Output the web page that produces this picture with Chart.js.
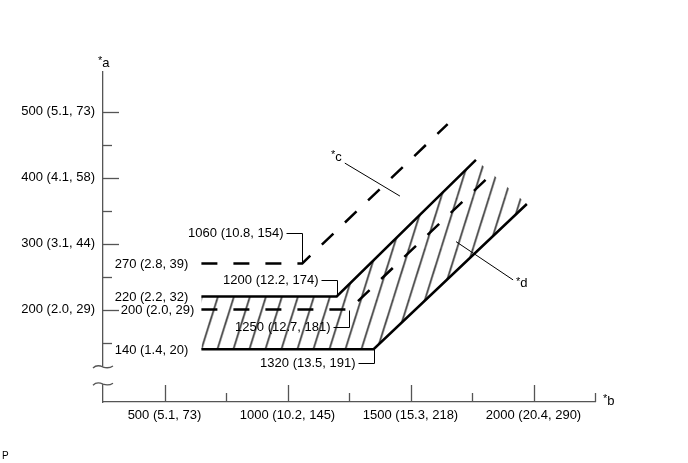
<!DOCTYPE html>
<html><head><meta charset="utf-8">
<script src="https://cdn.jsdelivr.net/npm/chart.js@4/dist/chart.umd.min.js"></script>
<style>html,body{margin:0;padding:0;background:#fff;}canvas{display:block;}</style>
</head><body>
<canvas id="c" width="688" height="463"></canvas>
<script>
// ---- axis ticks ----
const xTickValues = [500, 750, 1000, 1250, 1500, 1750, 2000, 2250];
const xTickLabels = ['500 (5.1, 73)', '', '1000 (10.2, 145)', '', '1500 (15.3, 218)', '', '2000 (20.4, 290)', ''];
const yTickValues = [150, 200, 250, 300, 350, 400, 450, 500];
const yTickLabels = ['', '200 (2.0, 29)', '', '300 (3.1, 44)', '', '400 (4.1, 58)', '', '500 (5.1, 73)'];
const yBreak = [87, 113];

// ---- lines ----
const upperSolidX = [650, 1200, 1766];
const upperSolidY = [220, 220, 427];
const lowerSolidX = [650, 1350, 1973];
const lowerSolidY = [140, 140, 360];
const upperDashX = [650, 1060, 1651];
const upperDashY = [270, 270, 481];
const lowerDashX = [650, 1250, 1837];
const lowerDashY = [200, 200, 408];
// upper boundary of hatched area
const hatchTopX = [650, 1200, 1766, 1973];
const hatchTopY = [220, 220, 427, 360];

// ---- texts ----
const startLabels = ['270 (2.8, 39)', '220 (2.2, 32)', '200 (2.0, 29)', '140 (1.4, 20)'];
const cornerLabels = ['1060 (10.8, 154)', '1200 (12.2, 174)', '1250 (12.7, 181)', '1320 (13.5, 191)'];
const calloutC = [1233, 422, 1457, 372];
const calloutD = [1685, 303, 1917, 245];
const axisNames = ['a', 'b', 'c', 'd'];
const figureTag = 'P';

const FONT = '13px "Liberation Sans", Arial, sans-serif';
const STARFONT = '11px "Liberation Sans", Arial, sans-serif';
const toXY = (xs, ys) => xs.map((v, i) => ({x: v, y: ys[i]}));

// hatch pattern
const cv = document.getElementById('c');
const tile = document.createElement('canvas');
tile.width = 16; tile.height = 51;
const tc = tile.getContext('2d');
tc.strokeStyle = '#000'; tc.lineWidth = 1.3;
for (const o of [-16, 0, 16]) { tc.beginPath(); tc.moveTo(o, 51); tc.lineTo(o + 16, 0); tc.stroke(); }
const hatch = cv.getContext('2d').createPattern(tile, 'repeat');

const patternAlign = {
  id: 'patternAlign',
  beforeDatasetsDraw(chart) {
    const {x, y} = chart.scales;
    const px = x.getPixelForValue(lowerSolidX[0]);
    const py = y.getPixelForValue(lowerSolidY[0]);
    hatch.setTransform(new DOMMatrix([1, 0, 0, 1, px, py - 51]));
  }
};

function starText(ctx, letter, x, yc, align) {
  ctx.save();
  ctx.textBaseline = 'middle';
  ctx.font = STARFONT;
  const sw = ctx.measureText('*').width;
  ctx.font = FONT;
  const lw = ctx.measureText(letter).width;
  let x0 = align === 'right' ? x - sw - lw : x;
  ctx.textAlign = 'left';
  ctx.font = STARFONT;
  ctx.fillText('*', x0, yc - 2);
  ctx.font = FONT;
  ctx.fillText(letter, x0 + sw, yc);
  ctx.restore();
}

const annot = {
  id: 'annot',
  afterDraw(chart) {
    const {ctx, chartArea: ca, scales: {x, y}} = chart;
    const P = (vx, vy) => [x.getPixelForValue(vx), y.getPixelForValue(vy)];
    const r = v => Math.round(v) + 0.5;
    ctx.save();
    ctx.strokeStyle = '#555'; ctx.lineWidth = 1.3;
    // tick marks (inside)
    xTickValues.forEach((v, i) => {
      const px = r(x.getPixelForValue(v));
      const len = xTickLabels[i] ? 17 : 9;
      ctx.beginPath(); ctx.moveTo(px, ca.bottom); ctx.lineTo(px, ca.bottom - len); ctx.stroke();
    });
    yTickValues.forEach((v, i) => {
      const py = r(y.getPixelForValue(v));
      const len = yTickLabels[i] ? 16 : 9;
      ctx.beginPath(); ctx.moveTo(ca.left, py); ctx.lineTo(ca.left + len, py); ctx.stroke();
    });
    // axis break
    const b1 = y.getPixelForValue(yBreak[1]);
    const b0 = y.getPixelForValue(yBreak[0]);
    ctx.fillStyle = '#fff';
    ctx.fillRect(ca.left - 4, b1, 8, b0 - b1);
    for (const yy of [b1, b0]) {
      ctx.beginPath();
      ctx.moveTo(ca.left - 10, yy + 1);
      ctx.bezierCurveTo(ca.left - 6, yy - 3, ca.left - 2, yy - 1, ca.left, yy);
      ctx.bezierCurveTo(ca.left + 3, yy + 1, ca.left + 7, yy + 1, ca.left + 10, yy - 1);
      ctx.stroke();
    }
    ctx.restore();

    ctx.save();
    ctx.font = FONT; ctx.fillStyle = '#000'; ctx.strokeStyle = '#000'; ctx.lineWidth = 1;
    ctx.textBaseline = 'middle';
    // start labels
    const starts = [[upperDashX, upperDashY, 13], [upperSolidX, upperSolidY, 13], [lowerDashX, lowerDashY, 7], [lowerSolidX, lowerSolidY, 13]];
    starts.forEach(([xs, ys, gap], i) => {
      const [px, py] = P(xs[0], ys[0]);
      ctx.textAlign = 'right';
      ctx.fillText(startLabels[i], px - gap, py + 1);
    });
    // corner labels with leaders
    const corners = [[upperDashX, upperDashY, -30], [upperSolidX, upperSolidY, -16], [lowerDashX, lowerDashY, 17], [lowerSolidX, lowerSolidY, 14]];
    corners.forEach(([xs, ys, dy], i) => {
      const [px, py] = P(xs[1], ys[1]);
      const lx = r(px), ly = r(py + dy);
      ctx.beginPath(); ctx.moveTo(lx, r(py)); ctx.lineTo(lx, ly); ctx.lineTo(lx - 16, ly); ctx.stroke();
      ctx.textAlign = 'right';
      ctx.fillText(cornerLabels[i], lx - 19, ly);
    });
    // callouts
    const [c1x, c1y] = P(calloutC[0], calloutC[1]);
    const [c2x, c2y] = P(calloutC[2], calloutC[3]);
    ctx.beginPath(); ctx.moveTo(c1x, c1y); ctx.lineTo(c2x, c2y); ctx.stroke();
    starText(ctx, axisNames[2], c1x - 3, c1y - 6, 'right');
    const [d1x, d1y] = P(calloutD[0], calloutD[1]);
    const [d2x, d2y] = P(calloutD[2], calloutD[3]);
    ctx.beginPath(); ctx.moveTo(d1x, d1y); ctx.lineTo(d2x, d2y); ctx.stroke();
    starText(ctx, axisNames[3], d2x + 3, d2y + 4, 'left');
    // axis names
    starText(ctx, axisNames[0], ca.left - 5, ca.top - 9, 'left');
    starText(ctx, axisNames[1], ca.right + 8, ca.bottom - 1, 'left');
    ctx.font = '10px "Liberation Sans", Arial, sans-serif';
    ctx.textAlign = 'left';
    ctx.fillText(figureTag, 2, 456);
    ctx.restore();
  }
};

const lineStyle = {borderColor: '#000', borderWidth: 2.5, pointRadius: 0, fill: false, tension: 0, borderJoinStyle: 'miter', borderCapStyle: 'butt'};

new Chart(cv, {
  type: 'line',
  data: {
    datasets: [
      {data: toXY(hatchTopX, hatchTopY), borderColor: 'rgba(0,0,0,0)', borderWidth: 0, pointRadius: 0, tension: 0, fill: {target: 1}, backgroundColor: hatch},
      Object.assign({data: toXY(lowerSolidX, lowerSolidY)}, lineStyle),
      Object.assign({data: toXY(upperSolidX, upperSolidY)}, lineStyle),
      Object.assign({data: toXY(upperDashX, upperDashY), borderDash: [16, 16]}, lineStyle),
      Object.assign({data: toXY(lowerDashX, lowerDashY), borderDash: [16, 16]}, lineStyle)
    ]
  },
  options: {
    responsive: false,
    animation: false,
    devicePixelRatio: 1,
    layout: {padding: {left: 0, top: 72, right: 93, bottom: 0}},
    plugins: {legend: {display: false}, tooltip: {enabled: false}},
    scales: {
      x: {
        type: 'linear', min: 250, max: 2250,
        afterBuildTicks: s => { s.ticks = xTickValues.map(v => ({value: v})); },
        afterFit: s => { s.height = 61; s.paddingLeft = 0; s.paddingRight = 0; },
        grid: {display: false, drawTicks: false},
        border: {display: true, color: '#555', width: 1.3},
        ticks: {
          autoSkip: false, maxRotation: 0, padding: 6, color: '#000',
          font: {family: '"Liberation Sans", Arial, sans-serif', size: 13},
          callback: v => xTickLabels[xTickValues.indexOf(v)] || ''
        }
      },
      y: {
        type: 'linear', min: 60, max: 560,
        afterBuildTicks: s => { s.ticks = yTickValues.map(v => ({value: v})); },
        afterFit: s => { s.width = 103; s.paddingTop = 0; s.paddingBottom = 0; },
        grid: {display: false, drawTicks: false},
        border: {display: true, color: '#555', width: 1.3},
        ticks: {
          autoSkip: false, padding: 8, color: '#000',
          font: {family: '"Liberation Sans", Arial, sans-serif', size: 13},
          callback: v => yTickLabels[yTickValues.indexOf(v)] || ''
        }
      }
    }
  },
  plugins: [patternAlign, annot]
});
</script>
</body></html>
